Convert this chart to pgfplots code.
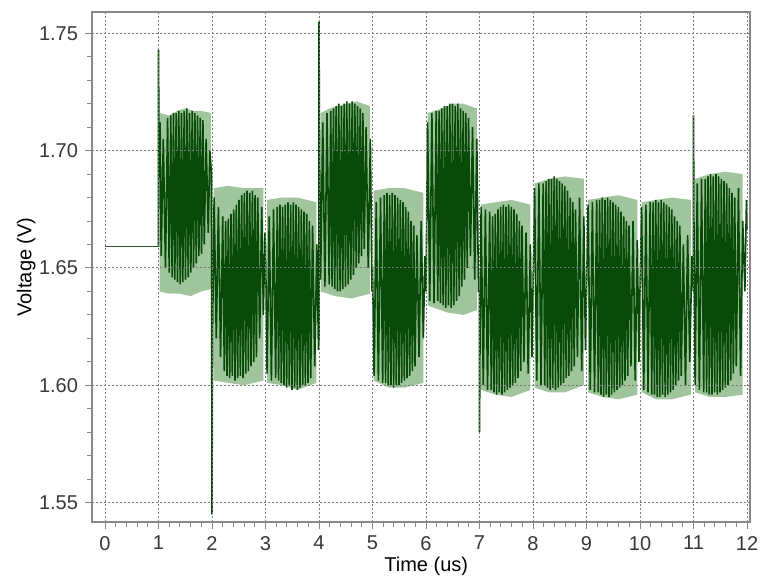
\documentclass[border=0pt]{standalone}
\usepackage{pgfplots}
\pgfplotsset{compat=1.18}
\usepackage{pgfplotstable}
\usepackage{fontspec}
\setmainfont{Liberation Sans}
\usetikzlibrary{calc}

\definecolor{wavedark}{RGB}{8,74,8}
\definecolor{wavelight}{RGB}{160,196,156}
\definecolor{gridgray}{RGB}{120,120,120}
\definecolor{axisgray}{RGB}{135,135,135}
\definecolor{labelgray}{RGB}{55,55,55}

% idle level before switching starts (time in us, voltage in V)
\pgfplotstableread[row sep=\\]{
t v\\
0.00 1.659\\ 1.00 1.659\\
}\idle

% sampled output voltage while switching (time in us, voltage in V)
\pgfplotstableread[row sep=\\]{
t v\\
1.00 1.659\\ 1.00 1.743\\ 1.01 1.700\\ 1.03 1.712\\ 1.05 1.655\\ 1.09 1.705\\ 1.13 1.650\\ 1.17 1.714\\ 1.20 1.648\\
1.23 1.715\\ 1.255 1.646\\ 1.28 1.716\\ 1.305 1.645\\ 1.33 1.716\\ 1.355 1.644\\ 1.38 1.717\\ 1.405 1.643\\ 1.43 1.716\\ 1.455 1.644\\
1.48 1.717\\ 1.505 1.645\\ 1.53 1.718\\ 1.555 1.646\\ 1.58 1.716\\ 1.605 1.648\\ 1.63 1.717\\ 1.655 1.650\\ 1.68 1.716\\ 1.705 1.652\\
1.73 1.715\\ 1.755 1.655\\ 1.78 1.714\\ 1.805 1.656\\ 1.83 1.713\\ 1.855 1.660\\ 1.89 1.705\\ 1.93 1.665\\ 1.96 1.700\\ 1.99 1.690\\
2.00 1.545\\ 2.01 1.620\\ 2.04 1.680\\ 2.08 1.620\\ 2.12 1.676\\ 2.16 1.612\\ 2.20 1.672\\
2.23 1.606\\ 2.255 1.670\\ 2.28 1.604\\ 2.305 1.671\\ 2.33 1.603\\ 2.355 1.673\\ 2.38 1.604\\ 2.405 1.675\\ 2.43 1.602\\ 2.455 1.677\\
2.48 1.603\\ 2.505 1.679\\ 2.53 1.604\\ 2.555 1.681\\ 2.58 1.603\\ 2.605 1.682\\ 2.63 1.605\\ 2.655 1.683\\ 2.68 1.606\\ 2.705 1.682\\
2.73 1.608\\ 2.755 1.683\\ 2.78 1.610\\ 2.805 1.681\\ 2.83 1.612\\ 2.855 1.680\\ 2.89 1.620\\ 2.93 1.676\\ 2.96 1.630\\ 2.99 1.665\\
3.00 1.660\\ 3.03 1.605\\ 3.07 1.672\\ 3.11 1.602\\ 3.15 1.675\\ 3.19 1.603\\
3.22 1.676\\ 3.245 1.602\\ 3.27 1.677\\ 3.295 1.601\\ 3.32 1.676\\ 3.345 1.600\\ 3.37 1.677\\ 3.395 1.599\\ 3.42 1.678\\ 3.445 1.600\\
3.47 1.677\\ 3.495 1.598\\ 3.52 1.678\\ 3.545 1.599\\ 3.57 1.677\\ 3.595 1.598\\ 3.62 1.676\\ 3.645 1.599\\ 3.67 1.675\\ 3.695 1.600\\
3.72 1.674\\ 3.745 1.600\\ 3.77 1.673\\ 3.795 1.601\\ 3.82 1.670\\ 3.845 1.603\\ 3.88 1.668\\ 3.92 1.608\\ 3.96 1.660\\ 3.99 1.615\\
4.00 1.620\\ 4.00 1.755\\ 4.01 1.700\\ 4.03 1.645\\ 4.07 1.712\\ 4.11 1.642\\ 4.15 1.716\\ 4.19 1.643\\
4.22 1.717\\ 4.245 1.642\\ 4.27 1.718\\ 4.295 1.641\\ 4.32 1.719\\ 4.345 1.640\\ 4.37 1.720\\ 4.395 1.640\\ 4.42 1.719\\ 4.445 1.641\\
4.47 1.720\\ 4.495 1.642\\ 4.52 1.721\\ 4.545 1.643\\ 4.57 1.720\\ 4.595 1.645\\ 4.62 1.721\\ 4.645 1.647\\ 4.67 1.720\\ 4.695 1.650\\
4.72 1.719\\ 4.745 1.652\\ 4.77 1.718\\ 4.795 1.655\\ 4.82 1.716\\ 4.845 1.658\\ 4.88 1.710\\ 4.92 1.650\\ 4.96 1.705\\ 4.99 1.640\\
5.00 1.650\\ 5.03 1.604\\ 5.07 1.678\\ 5.11 1.602\\ 5.15 1.680\\ 5.19 1.601\\
5.22 1.681\\ 5.245 1.601\\ 5.27 1.682\\ 5.295 1.600\\ 5.32 1.681\\ 5.345 1.600\\ 5.37 1.682\\ 5.395 1.599\\ 5.42 1.681\\ 5.445 1.600\\
5.47 1.680\\ 5.495 1.600\\ 5.52 1.679\\ 5.545 1.601\\ 5.57 1.678\\ 5.595 1.602\\ 5.62 1.676\\ 5.645 1.603\\ 5.67 1.674\\ 5.695 1.604\\
5.72 1.670\\ 5.745 1.606\\ 5.77 1.668\\ 5.795 1.608\\ 5.83 1.664\\ 5.87 1.612\\ 5.91 1.670\\ 5.95 1.620\\ 5.98 1.655\\
6.00 1.640\\ 6.03 1.712\\ 6.07 1.636\\ 6.11 1.716\\ 6.15 1.635\\ 6.19 1.717\\
6.22 1.636\\ 6.245 1.717\\ 6.27 1.635\\ 6.295 1.718\\ 6.32 1.634\\ 6.345 1.719\\ 6.37 1.633\\ 6.395 1.719\\ 6.42 1.634\\ 6.445 1.720\\
6.47 1.633\\ 6.495 1.720\\ 6.52 1.634\\ 6.545 1.719\\ 6.57 1.636\\ 6.595 1.720\\ 6.62 1.638\\ 6.645 1.718\\ 6.67 1.642\\ 6.695 1.717\\
6.72 1.645\\ 6.745 1.716\\ 6.77 1.650\\ 6.795 1.714\\ 6.83 1.655\\ 6.87 1.710\\ 6.91 1.645\\ 6.95 1.705\\ 6.98 1.640\\
7.00 1.640\\ 7.00 1.580\\ 7.01 1.620\\ 7.03 1.676\\ 7.07 1.600\\ 7.11 1.675\\ 7.15 1.598\\ 7.19 1.674\\
7.22 1.598\\ 7.245 1.672\\ 7.27 1.597\\ 7.295 1.673\\ 7.32 1.596\\ 7.345 1.675\\ 7.37 1.597\\ 7.395 1.676\\ 7.42 1.596\\ 7.445 1.677\\
7.47 1.597\\ 7.495 1.676\\ 7.52 1.598\\ 7.545 1.677\\ 7.57 1.599\\ 7.595 1.676\\ 7.62 1.600\\ 7.645 1.675\\ 7.67 1.601\\ 7.695 1.673\\
7.72 1.603\\ 7.745 1.670\\ 7.77 1.606\\ 7.795 1.668\\ 7.83 1.610\\ 7.87 1.665\\ 7.91 1.605\\ 7.95 1.660\\ 7.98 1.612\\
8.00 1.640\\ 8.03 1.684\\ 8.07 1.602\\ 8.11 1.686\\ 8.15 1.600\\ 8.19 1.686\\
8.22 1.600\\ 8.245 1.687\\ 8.27 1.599\\ 8.295 1.688\\ 8.32 1.598\\ 8.345 1.688\\ 8.37 1.599\\ 8.395 1.689\\ 8.42 1.598\\ 8.445 1.688\\
8.47 1.599\\ 8.495 1.687\\ 8.52 1.600\\ 8.545 1.686\\ 8.57 1.601\\ 8.595 1.685\\ 8.62 1.603\\ 8.645 1.683\\ 8.67 1.604\\ 8.695 1.680\\
8.72 1.606\\ 8.745 1.678\\ 8.77 1.608\\ 8.795 1.675\\ 8.83 1.612\\ 8.87 1.680\\ 8.91 1.606\\ 8.95 1.672\\ 8.98 1.615\\
9.00 1.640\\ 9.03 1.677\\ 9.07 1.598\\ 9.11 1.678\\ 9.15 1.597\\ 9.19 1.679\\
9.22 1.597\\ 9.245 1.679\\ 9.27 1.596\\ 9.295 1.680\\ 9.32 1.595\\ 9.345 1.679\\ 9.37 1.596\\ 9.395 1.680\\ 9.42 1.595\\ 9.445 1.679\\
9.47 1.596\\ 9.495 1.678\\ 9.52 1.597\\ 9.545 1.677\\ 9.57 1.598\\ 9.595 1.676\\ 9.62 1.599\\ 9.645 1.674\\ 9.67 1.600\\ 9.695 1.672\\
9.72 1.602\\ 9.745 1.670\\ 9.77 1.604\\ 9.795 1.668\\ 9.83 1.608\\ 9.87 1.670\\ 9.91 1.602\\ 9.95 1.662\\ 9.98 1.610\\
10.00 1.640\\ 10.03 1.676\\ 10.07 1.598\\ 10.11 1.677\\ 10.15 1.597\\ 10.19 1.678\\
10.22 1.596\\ 10.245 1.678\\ 10.27 1.596\\ 10.295 1.679\\ 10.32 1.595\\ 10.345 1.678\\ 10.37 1.595\\ 10.395 1.679\\ 10.42 1.596\\ 10.445 1.678\\
10.47 1.595\\ 10.495 1.677\\ 10.52 1.596\\ 10.545 1.676\\ 10.57 1.597\\ 10.595 1.675\\ 10.62 1.598\\ 10.645 1.672\\ 10.67 1.600\\ 10.695 1.670\\
10.72 1.602\\ 10.745 1.668\\ 10.77 1.604\\ 10.81 1.660\\ 10.85 1.600\\ 10.89 1.664\\ 10.93 1.610\\ 10.97 1.655\\
11.00 1.640\\ 11.00 1.715\\ 11.01 1.660\\ 11.03 1.600\\ 11.07 1.686\\ 11.11 1.598\\ 11.15 1.688\\ 11.19 1.597\\
11.22 1.688\\ 11.245 1.597\\ 11.27 1.689\\ 11.295 1.596\\ 11.32 1.690\\ 11.345 1.596\\ 11.37 1.689\\ 11.395 1.597\\ 11.42 1.690\\ 11.445 1.596\\
11.47 1.689\\ 11.495 1.597\\ 11.52 1.688\\ 11.545 1.598\\ 11.57 1.687\\ 11.595 1.599\\ 11.62 1.686\\ 11.645 1.600\\ 11.67 1.684\\ 11.695 1.602\\
11.72 1.682\\ 11.745 1.605\\ 11.77 1.680\\ 11.80 1.608\\ 11.84 1.684\\ 11.88 1.604\\ 11.92 1.670\\ 11.96 1.640\\ 11.99 1.679\\ 12.00 1.666\\
}\wave

\begin{document}
\begin{tikzpicture}
\begin{axis}[
  name=ax,
  scale only axis,
  width=329pt, height=255pt,
  xmin=-0.243, xmax=12.056,
  ymin=1.5417, ymax=1.7591,
  xtick={0,1,...,12},
  ytick={1.55,1.60,1.65,1.70,1.75},
  minor x tick num=4,
  minor y tick num=4,
  tick pos=left,
  tick align=outside,
  major tick length=3.5pt,
  minor tick length=2.5pt,
  every tick/.style={axisgray, line width=0.5pt},
  axis line style={axisgray, line width=0.6pt},
  grid=major,
  major grid style={gridgray, line width=0.5pt, dash pattern=on 0.9pt off 1.1pt},
  axis on top,
  /pgf/number format/assume math mode=true,
  yticklabel style={/pgf/number format/.cd, fixed, fixed zerofill, precision=2},
  ticklabel style={font=\fontsize{10}{12}\selectfont, text=labelgray},
  xlabel={Time (us)},
  ylabel={Voltage (V)},
  label style={font=\fontsize{11.5}{13}\selectfont, text=black!85},
  every axis x label/.style={at={(axis description cs:0.508,-0.087)}, anchor=center},
  every axis y label/.style={at={(axis description cs:-0.1,0.5)}, rotate=90, anchor=center},
]
% light envelope of each switching interval
\addplot[fill=wavelight, draw=none] coordinates {(1.02,1.716) (1.2,1.715) (1.35,1.717) (1.5,1.718) (1.65,1.717) (1.8,1.717) (1.98,1.716) (1.98,1.641) (1.8,1.640) (1.6,1.638) (1.4,1.639) (1.2,1.639) (1.02,1.640)} -- cycle;
\addplot[fill=wavelight, draw=none] coordinates {(2.03,1.684) (2.3,1.685) (2.6,1.684) (2.96,1.684) (2.96,1.602) (2.6,1.600) (2.3,1.601) (2.03,1.602)} -- cycle;
\addplot[fill=wavelight, draw=none] coordinates {(3.03,1.679) (3.3,1.680) (3.6,1.680) (3.95,1.678) (3.95,1.601) (3.6,1.598) (3.3,1.600) (3.03,1.601)} -- cycle;
\addplot[fill=wavelight, draw=none] coordinates {(4.03,1.716) (4.2,1.718) (4.5,1.720) (4.7,1.721) (4.95,1.719) (4.95,1.639) (4.6,1.637) (4.3,1.638) (4.03,1.640)} -- cycle;
\addplot[fill=wavelight, draw=none] coordinates {(5.02,1.683) (5.3,1.684) (5.6,1.684) (5.95,1.682) (5.95,1.601) (5.6,1.599) (5.3,1.599) (5.02,1.602)} -- cycle;
\addplot[fill=wavelight, draw=none] coordinates {(6.03,1.716) (6.3,1.718) (6.5,1.720) (6.7,1.720) (6.95,1.718) (6.95,1.632) (6.7,1.630) (6.4,1.631) (6.03,1.634)} -- cycle;
\addplot[fill=wavelight, draw=none] coordinates {(7.03,1.677) (7.3,1.678) (7.6,1.679) (7.95,1.677) (7.95,1.598) (7.6,1.595) (7.3,1.596) (7.03,1.598)} -- cycle;
\addplot[fill=wavelight, draw=none] coordinates {(8.03,1.686) (8.3,1.688) (8.6,1.689) (8.95,1.688) (8.95,1.600) (8.6,1.597) (8.3,1.597) (8.03,1.599)} -- cycle;
\addplot[fill=wavelight, draw=none] coordinates {(9.03,1.679) (9.3,1.680) (9.6,1.681) (9.95,1.679) (9.95,1.596) (9.6,1.594) (9.3,1.595) (9.03,1.597)} -- cycle;
\addplot[fill=wavelight, draw=none] coordinates {(10.03,1.678) (10.3,1.679) (10.6,1.680) (10.95,1.679) (10.95,1.596) (10.6,1.594) (10.3,1.594) (10.03,1.597)} -- cycle;
\addplot[fill=wavelight, draw=none] coordinates {(11.03,1.688) (11.3,1.690) (11.6,1.691) (11.92,1.690) (11.92,1.596) (11.6,1.595) (11.3,1.595) (11.03,1.597)} -- cycle;
% idle level, then the switching waveform
\addplot[wavedark!70!gray, line width=0.45pt] table[x=t, y=v] {\idle};
\addplot[wavedark, line width=0.8pt, line join=miter] table[x=t, y=v] {\wave};
\end{axis}
\pgfresetboundingbox
\path[use as bounding box] ($(ax.south west)+(-46pt,-28.5pt)$) rectangle ($(ax.north east)+(5pt,6pt)$);
\end{tikzpicture}
\end{document}
